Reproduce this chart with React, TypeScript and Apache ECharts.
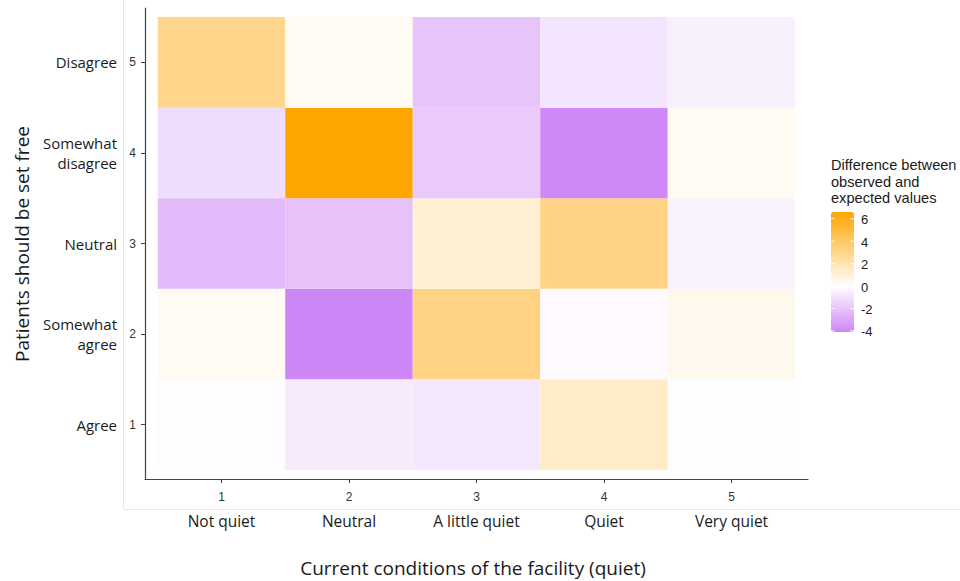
import React, { useEffect, useRef } from "react";
import * as echarts from "echarts";

const xNumbers = [1, 2, 3, 4, 5];
const yNumbers = [1, 2, 3, 4, 5];
const xCategories = ["Not quiet", "Neutral", "A little quiet", "Quiet", "Very quiet"];
const yCategories = ["Agree", "Somewhat\nagree", "Neutral", "Somewhat\ndisagree", "Disagree"];

// differences (observed - expected), rows from y = 1 (Agree) to y = 5 (Disagree)
const rowAgree = [-0.1, -0.7, -0.8, 1.5, -0.05];
const rowSomewhatAgree = [0.3, -4.1, 3.2, -0.2, 0.5];
const rowNeutral = [-2.3, -2.1, 1.1, 3.2, -0.4];
const rowSomewhatDisagree = [-1.2, 6.6, -1.8, -4.0, 0.3];
const rowDisagree = [3.0, 0.3, -2.0, -0.9, -0.5];
const rows = [rowAgree, rowSomewhatAgree, rowNeutral, rowSomewhatDisagree, rowDisagree];

const legendTicks = [-4, -2, 0, 2, 4, 6];
const valueMin = -4.1;
const valueMax = 6.6;

const FONT_TEXT = "Open Sans";
const FONT_NUM = "Liberation Sans";

function colorAt(v: number): string {
  const lim = 6.6;
  const lo = [175, 60, 240];
  const hi = [255, 165, 0];
  const end = v < 0 ? lo : hi;
  const f = Math.min(1, Math.abs(v) / lim);
  const c = end.map((e) => Math.round(255 + (e - 255) * f));
  return `rgb(${c[0]},${c[1]},${c[2]})`;
}

export default function App() {
  const ref = useRef<HTMLDivElement>(null);
  useEffect(() => {
    if (!ref.current) return;
    const chart = echarts.init(ref.current, undefined, { renderer: "svg" });

    const data: number[][] = [];
    rows.forEach((row, yi) => {
      row.forEach((v, xi) => {
        data.push([xNumbers[xi], yNumbers[yi], v]);
      });
    });

    const stops: string[] = [];
    const n = 108;
    for (let i = 0; i < n; i++) {
      stops.push(colorAt(valueMin + ((valueMax - valueMin) * i) / (n - 1)));
    }

    const barLeft = 831;
    const barTop = 212;
    const barW = 23;
    const barH = 120;
    const yOf = (v: number) => barTop + ((valueMax - v) / (valueMax - valueMin)) * barH;

    const legendGraphics: any[] = [];
    legendTicks.forEach((t) => {
      const y = yOf(t);
      legendGraphics.push({
        type: "line",
        shape: { x1: barLeft, y1: y, x2: barLeft + 4, y2: y },
        style: { stroke: "rgba(255,255,255,0.85)", lineWidth: 1 },
        z: 100,
      });
      legendGraphics.push({
        type: "line",
        shape: { x1: barLeft + barW - 4, y1: y, x2: barLeft + barW, y2: y },
        style: { stroke: "rgba(255,255,255,0.85)", lineWidth: 1 },
        z: 100,
      });
      legendGraphics.push({
        type: "text",
        x: 861,
        y: y + 1,
        style: {
          text: String(t),
          fontFamily: FONT_NUM,
          fontSize: 13,
          fill: "#222",
          verticalAlign: "middle",
        },
      });
    });

    const axisNumStyle = { fontFamily: FONT_NUM, fontSize: 12, color: "#333" };

    chart.setOption({
      animation: false,
      backgroundColor: "#fff",
      grid: {
        left: 145,
        right: 152,
        top: 8,
        bottom: 102,
        containLabel: false,
        outerBoundsMode: "none",
      },
      xAxis: [
        {
          type: "value",
          min: 0.4,
          max: 5.6,
          position: "bottom",
          splitLine: { show: false },
          axisLine: { show: true, lineStyle: { color: "#444", width: 1.2 } },
          axisTick: { show: true, customValues: xNumbers, length: 4, lineStyle: { color: "#444" } },
          axisLabel: { customValues: xNumbers, margin: 12, ...axisNumStyle },
        },
        {
          type: "value",
          min: 0.4,
          max: 5.6,
          position: "bottom",
          offset: 0,
          splitLine: { show: false },
          axisLine: { show: false },
          axisTick: { show: false },
          axisLabel: {
            customValues: xNumbers,
            margin: 34,
            fontFamily: FONT_TEXT,
            fontSize: 15.5,
            color: "#1a1a1a",
            formatter: (v: number) => xCategories[Math.round(v) - 1] ?? "",
          },
        },
      ],
      yAxis: [
        {
          type: "value",
          min: 0.4,
          max: 5.6,
          position: "left",
          splitLine: { show: false },
          axisLine: { show: true, lineStyle: { color: "#444", width: 1.2 } },
          axisTick: { show: true, customValues: yNumbers, length: 4, lineStyle: { color: "#444" } },
          axisLabel: { customValues: yNumbers, margin: 9, ...axisNumStyle },
        },
        {
          type: "value",
          min: 0.4,
          max: 5.6,
          position: "left",
          offset: 0,
          splitLine: { show: false },
          axisLine: { show: false },
          axisTick: { show: false },
          axisLabel: {
            customValues: yNumbers,
            margin: 28,
            fontFamily: FONT_TEXT,
            fontSize: 15,
            lineHeight: 20,
            align: "right",
            color: "#1a1a1a",
            formatter: (v: number) => yCategories[Math.round(v) - 1] ?? "",
          },
        },
      ],
      visualMap: {
        type: "continuous",
        min: valueMin,
        max: valueMax,
        dimension: 2,
        seriesIndex: 0,
        calculable: false,
        orient: "vertical",
        left: barLeft,
        top: barTop,
        itemWidth: barW,
        itemHeight: barH,
        padding: 0,
        text: ["", ""],
        showLabel: false,
        inRange: { color: stops },
      },
      graphic: [
        {
          type: "line",
          shape: { x1: 123.5, y1: 0, x2: 123.5, y2: 509.5 },
          style: { stroke: "#e6e6e6", lineWidth: 1 },
        },
        {
          type: "line",
          shape: { x1: 123.5, y1: 509.5, x2: 960, y2: 509.5 },
          style: { stroke: "#e6e6e6", lineWidth: 1 },
        },
        {
          type: "text",
          x: 473,
          y: 568,
          style: {
            text: "Current conditions of the facility (quiet)",
            fontFamily: FONT_TEXT,
            fontSize: 19,
            fill: "#1a1a1a",
            align: "center",
            verticalAlign: "middle",
          },
        },
        {
          type: "text",
          x: 22,
          y: 244,
          rotation: Math.PI / 2,
          style: {
            text: "Patients should be set free",
            fontFamily: FONT_TEXT,
            fontSize: 19,
            fill: "#1a1a1a",
            align: "center",
            verticalAlign: "middle",
          },
        },
        {
          type: "text",
          x: 831,
          y: 157,
          style: {
            text: "Difference between\nobserved and\nexpected values",
            fontFamily: FONT_NUM,
            fontSize: 14.6,
            lineHeight: 16.5,
            fill: "#1a1a1a",
            align: "left",
            verticalAlign: "top",
          },
        },
        ...legendGraphics,
      ],
      series: [
        {
          type: "custom",
          xAxisIndex: 0,
          yAxisIndex: 0,
          encode: { x: 0, y: 1 },
          data: data,
          renderItem: (params: any, api: any) => {
            const x = api.value(0);
            const y = api.value(1);
            const p0 = api.coord([x - 0.5, y + 0.5]);
            const p1 = api.coord([x + 0.5, y - 0.5]);
            return {
              type: "rect",
              shape: { x: p0[0], y: p0[1], width: p1[0] - p0[0], height: p1[1] - p0[1] },
              style: { fill: api.visual("color") },
            };
          },
        },
      ],
    });
    return () => chart.dispose();
  }, []);

  return (
    <div
      ref={ref}
      style={{ position: "fixed", left: 0, top: 0, width: 960, height: 581 }}
    />
  );
}
